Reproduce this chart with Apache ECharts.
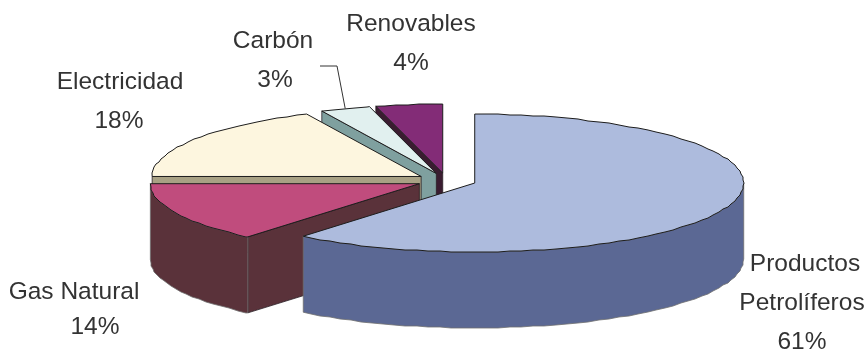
<!DOCTYPE html>
<html>
<head>
<meta charset="utf-8">
<style>html,body{margin:0;padding:0;background:#fff}#c{width:866px;height:351px}</style>
<script src="https://cdn.jsdelivr.net/npm/echarts@6/dist/echarts.min.js"></script>
</head>
<body>
<div id="c"></div>
<script>
// Energy consumption by source, clockwise from twelve o'clock
const categories = ['Productos Petrolíferos', 'Gas Natural', 'Electricidad', 'Carbón', 'Renovables'];
const shares = [61, 14, 18, 3, 4];
const topColors = ['#adbbdd', '#c04c7d', '#fdf6df', '#e1f0ef', '#832c77'];
const wallColors = ['#5b6894', '#5a323a', '#a8a184', '#7fa09f', '#3a1c30'];
const labelLines = [['Productos', 'Petrolíferos'], ['Gas Natural'], ['Electricidad'], ['Carbón'], ['Renovables']];

// Tilted-disc geometry, in pixels
const disc = { cx: 446.5, cy: 180.5, rx: 269, ry: 69, depth: 76, explode: 30, tilt: 0.25, step: 2.5, snap: 1 };
// Label placement: [centre x of each line], [centre y of each line]
const labelPos = [
  { x: [805, 802, 802], y: [264.5, 303.5, 342.5] },
  { x: [74, 95], y: [292, 327.5] },
  { x: [120, 119], y: [82.5, 121.5] },
  { x: [273, 275], y: [41.5, 80] },
  { x: [411, 411], y: [24.5, 63] }
];
const carbonIndex = 3;
const leaderElbow = [[337, 66], [320, 66]];
const drawOrder = [4, 3, 2, 1, 0];

const total = shares.reduce((a, b) => a + b, 0);
const sweep = [];
shares.reduce((acc, v, i) => {
  sweep[i] = [acc / total * 360, (acc + v) / total * 360];
  return acc + v;
}, 0);

const rad = d => d * Math.PI / 180;
const snap = v => Math.round(v / disc.snap) * disc.snap;

function apexOf(i) {
  const mid = rad((sweep[i][0] + sweep[i][1]) / 2);
  return [
    disc.cx + disc.explode * Math.sin(mid),
    disc.cy - disc.explode * disc.tilt * Math.cos(mid)
  ];
}
function rimPoint(apex, deg) {
  return [apex[0] + disc.rx * Math.sin(rad(deg)), apex[1] - disc.ry * Math.cos(rad(deg))];
}
// The rim is traced coarsely so it keeps the slightly rough outline of the printed figure
function rimArc(apex, from, to) {
  const pts = [rimPoint(apex, from)];
  for (let d = Math.ceil(from / disc.step) * disc.step; d < to; d += disc.step) {
    if (d > from) {
      const p = rimPoint(apex, d);
      pts.push([snap(p[0]), snap(p[1])]);
    }
  }
  pts.push(rimPoint(apex, to));
  return pts;
}
const dropped = pts => pts.map(p => [p[0], p[1] + disc.depth]);

function renderSlice(params) {
  const i = drawOrder[params.dataIndex];
  const [a0, a1] = sweep[i];
  const apex = apexOf(i);
  const children = [];
  const wallStyle = { fill: wallColors[i], stroke: '#6f6f6f', lineWidth: 0.8, lineJoin: 'round' };

  // Cut face along the starting edge shows only when it turns towards the viewer
  if (Math.sin(rad(a0)) < -1e-6) {
    const edge = [apex, rimPoint(apex, a0)];
    children.push({
      type: 'polygon',
      shape: { points: edge.concat(dropped(edge).reverse()) },
      style: { fill: wallColors[i], stroke: '#2a2026', lineWidth: 0.8 }
    });
  }
  // Outer wall covers the front half of the disc only
  const wFrom = Math.max(a0, 90), wTo = Math.min(a1, 270);
  if (wTo > wFrom) {
    const arc = rimArc(apex, wFrom, wTo);
    children.push({
      type: 'polygon',
      shape: { points: arc.concat(dropped(arc).reverse()) },
      style: wallStyle
    });
  }
  // Top face
  children.push({
    type: 'polygon',
    shape: { points: [apex].concat(rimArc(apex, a0, a1)) },
    style: { fill: topColors[i], stroke: '#1d1d1d', lineWidth: 1, lineJoin: 'round' }
  });
  // Leader line for the narrow coal slice
  if (i === carbonIndex) {
    const start = rimPoint(apex, (a0 + a1) / 2);
    children.push({
      type: 'polyline',
      shape: { points: [start].concat(leaderElbow) },
      style: { fill: null, stroke: '#333', lineWidth: 1 }
    });
  }
  // Category name followed by its percentage
  labelLines[i].concat(shares[i] + '%').forEach((line, k) => {
    children.push({
      type: 'text',
      style: {
        text: line,
        x: labelPos[i].x[k],
        y: labelPos[i].y[k],
        fill: '#333333',
        font: '24.5px "Liberation Sans", Arial, sans-serif',
        align: 'center',
        verticalAlign: 'middle'
      }
    });
  });
  return { type: 'group', children };
}

const chart = echarts.init(document.getElementById('c'), null, { renderer: 'canvas' });
chart.setOption({
  backgroundColor: '#ffffff',
  animation: false,
  tooltip: { show: false },
  series: [{
    type: 'custom',
    coordinateSystem: 'none',
    silent: true,
    renderItem: renderSlice,
    data: drawOrder.map(i => ({ name: categories[i], value: shares[i] }))
  }]
});
</script>
</body>
</html>
